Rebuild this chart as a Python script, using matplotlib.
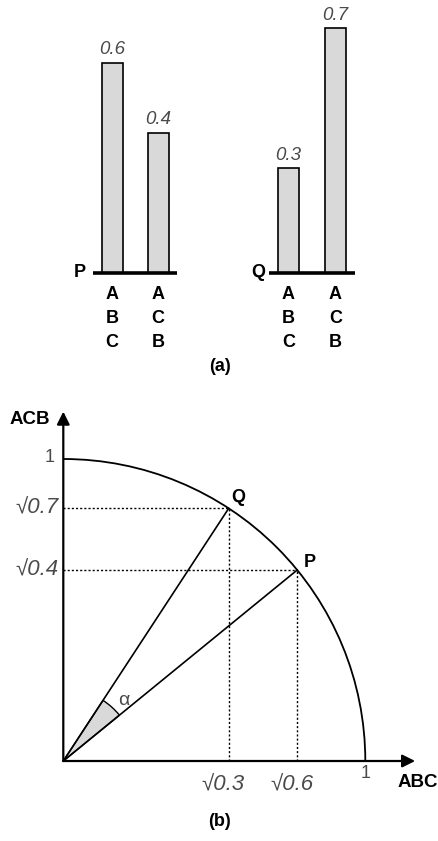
import numpy as np
import matplotlib
matplotlib.use('Agg')
from matplotlib import pyplot as plt
from matplotlib.patches import Arc, Wedge

plt.rcParams['font.family'] = ['Liberation Sans', 'DejaVu Sans']

# panel (a): probability of each ordering for the two states
groups = ['P', 'Q']
orders = ['ABC', 'ACB']
p_values = [0.6, 0.4]
q_values = [0.3, 0.7]
value_labels = [['0.6', '0.4'], ['0.3', '0.7']]

# panel (b): squared coordinates (ABC, ACB) of each state
p_point = [0.6, 0.4]
q_point = [0.3, 0.7]

W, H = 439, 841
fig = plt.figure(figsize=(W / 100, H / 100), dpi=100)
GRAY = '#4a4a4a'

# ---------- (a) ----------
ax1 = fig.add_axes([0, 441 / H, 1, 400 / H])
px_per_unit = 350.0
base = 272.7
ax1.set_xlim(0, W)
ax1.set_ylim(-(400 - base) / px_per_unit, base / px_per_unit)
ax1.axis('off')

bar_x = [[112.2, 158.2], [288.5, 335.3]]
base_span = [[93, 177], [269, 355]]
label_right = [86, 265]
for g, vals in enumerate([p_values, q_values]):
    ax1.bar(bar_x[g], vals, width=21, color='#d9d9d9', edgecolor='black',
            linewidth=1.2, zorder=2)
    ax1.plot(base_span[g], [0, 0], color='black', lw=2.6,
             solid_capstyle='butt', zorder=3)
    ax1.text(label_right[g], 0, groups[g], ha='right', va='center',
             fontsize=13, fontweight='bold')
    for i, v in enumerate(vals):
        ax1.text(bar_x[g][i], v + 0.012, value_labels[g][i], ha='center',
                 va='bottom', fontsize=13.5, style='italic', color=GRAY)
        for k, ch in enumerate(orders[i]):
            ax1.text(bar_x[g][i], -(294.5 + 24 * k - base) / px_per_unit, ch,
                     ha='center', va='center', fontsize=13, fontweight='bold')

ax1.text(220, -(366 - base) / px_per_unit, '(a)', ha='center', va='center',
         fontsize=13, fontweight='bold')

# ---------- (b) ----------
ax2 = fig.add_axes([0, 0, 1, 441 / H])
u = 302.0
ox, oy = 63.3, 761 - 400
ax2.set_xlim(-ox / u, (W - ox) / u)
ax2.set_ylim(-(441 - oy) / u, oy / u)
ax2.axis('off')

arrow = dict(arrowstyle='-|>', lw=1.6, color='black', mutation_scale=19,
             shrinkA=0, shrinkB=0)
ax2.annotate('', xy=(1.165, 0), xytext=(0, 0), arrowprops=arrow)
ax2.annotate('', xy=(0, 1.157), xytext=(0, 0), arrowprops=arrow)

ax2.add_patch(Arc((0, 0), 2, 2, theta1=0, theta2=90, lw=1.3, color='black'))

pts = {'P': np.sqrt(p_point), 'Q': np.sqrt(q_point)}
ang = {k: np.degrees(np.arctan2(v[1], v[0])) for k, v in pts.items()}
ax2.add_patch(Wedge((0, 0), 0.24, ang['P'], ang['Q'], facecolor='#d9d9d9',
                    edgecolor='black', lw=1.0))

for name, (x, y) in pts.items():
    ax2.plot([0, x], [0, y], color='black', lw=1.2)
    ax2.plot([x, x], [0, y], color='black', lw=1.0, ls=(0, (1.5, 1.5)))
    ax2.plot([0, x], [y, y], color='black', lw=1.0, ls=(0, (1.5, 1.5)))

ax2.text(0.578, 0.871, 'Q', ha='center', va='center', fontsize=13,
         fontweight='bold')
ax2.text(0.817, 0.656, 'P', ha='center', va='center', fontsize=13,
         fontweight='bold')
ax2.text(0.2, 0.2, '\u03b1', ha='center', va='center', fontsize=14,
         color=GRAY)

ax2.text(-0.015, pts['Q'][1], '\u221a0.7', ha='right', va='center',
         fontsize=16, style='italic', color=GRAY)
ax2.text(-0.015, pts['P'][1], '\u221a0.4', ha='right', va='center',
         fontsize=16, style='italic', color=GRAY)
ax2.text((223 - ox) / u, -0.08, '\u221a0.3', ha='center', va='center',
         fontsize=16, style='italic', color=GRAY)
ax2.text((292 - ox) / u, -0.08, '\u221a0.6', ha='center', va='center',
         fontsize=16, style='italic', color=GRAY)
ax2.text((50 - ox) / u, 1.005, '1', ha='center', va='center', fontsize=13,
         color=GRAY)
ax2.text(1.0, -0.043, '1', ha='center', va='center', fontsize=13, color=GRAY)

ax2.text((30 - ox) / u, (761 - 419.5) / u, 'ACB', ha='center', va='center',
         fontsize=13.5, fontweight='bold')
ax2.text((418 - ox) / u, (761 - 782.5) / u, 'ABC', ha='center', va='center',
         fontsize=13.5, fontweight='bold')
ax2.text((220 - ox) / u, (761 - 822) / u, '(b)', ha='center', va='center',
         fontsize=13, fontweight='bold')

fig.savefig('out.png', dpi=100, facecolor='white')
